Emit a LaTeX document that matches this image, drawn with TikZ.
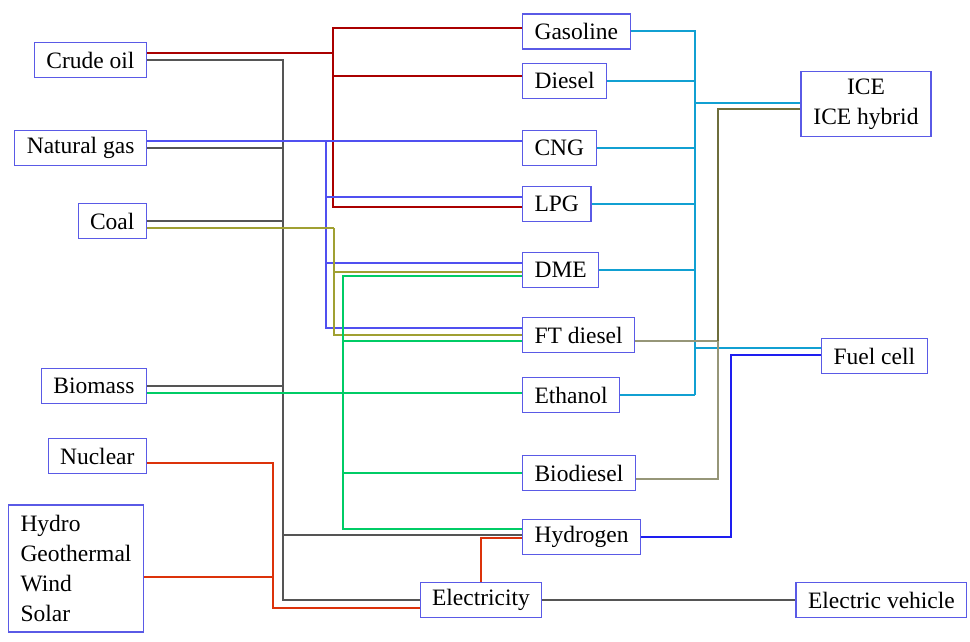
\documentclass[tikz,border=0pt]{standalone}
\usepackage{fontspec}
\setmainfont{Liberation Serif}
\usepackage{xcolor}
\usetikzlibrary{positioning,calc}
\definecolor{boxblue}{RGB}{90,90,230}
\definecolor{oilred}{RGB}{170,0,0}
\definecolor{gasblue}{RGB}{80,80,240}
\definecolor{coalolive}{RGB}{160,160,50}
\definecolor{biogreen}{RGB}{0,204,102}
\definecolor{trunkgrey}{RGB}{85,85,85}
\definecolor{elecred}{RGB}{220,50,10}
\definecolor{fuelcyan}{RGB}{17,160,210}
\definecolor{dieselolive}{RGB}{150,150,120}
\definecolor{iceolive}{RGB}{110,110,60}
\definecolor{htwoblue}{RGB}{30,30,240}

\begin{document}
\begin{tikzpicture}[x=1pt,y=-1pt,
  box/.style={draw=boxblue,line width=1.1pt,fill=white,minimum height=35pt,inner xsep=12pt,inner ysep=2pt,font=\fontsize{23.5}{30}\selectfont},
  oil/.style={draw=oilred,line width=1.8pt},
  gas/.style={draw=gasblue,line width=1.3pt},
  coalline/.style={draw=coalolive,line width=1.2pt},
  bio/.style={draw=biogreen,line width=2pt},
  grl/.style={draw=trunkgrey,line width=1.2pt},
  elecl/.style={draw=elecred,line width=1.8pt},
  fuel/.style={draw=fuelcyan,line width=2pt},
  dsl/.style={draw=dieselolive,line width=1.2pt},
  icel/.style={draw=iceolive,line width=1.3pt},
  htwo/.style={draw=htwoblue,line width=2pt}]
\useasboundingbox (0,0) rectangle (970,642);
% primary sources
\node[box,anchor=east] (crude) at (147,60) {Crude oil};
\node[box,anchor=east] (natgas) at (147,148) {Natural gas};
\node[box,anchor=east] (coal) at (147,221) {Coal};
\node[box,anchor=east] (biomass) at (147,386) {Biomass};
\node[box,anchor=east] (nuclear) at (147,456) {Nuclear};
\node[box,anchor=east,align=left,minimum height=127pt] (renew) at (144,568.5) {Hydro\\Geothermal\\Wind\\Solar};
% fuels
\node[box,anchor=west] (gasoline) at (522,31.5) {Gasoline};
\node[box,below=13pt of gasoline.south west,anchor=north west] (diesel) {Diesel};
\node[box,anchor=west] (cng) at (522,148) {CNG};
\node[box,anchor=west] (lpg) at (522,204) {LPG};
\node[box,anchor=west] (dme) at (522,270) {DME};
\node[box,anchor=west] (ftd) at (522,335) {FT diesel};
\node[box,anchor=west] (ethanol) at (522,395) {Ethanol};
\node[box,anchor=west] (biodiesel) at (522,473) {Biodiesel};
\node[box,anchor=west] (hydrogen) at (522,537) {Hydrogen};
\node[box] (elec) at (481,600) {Electricity};
% vehicles
\node[box,align=center,minimum width=130pt,minimum height=65pt] (ice) at (866,104) {ICE\\ICE hybrid};
\node[box,anchor=west] (fuelcell) at (821,356) {Fuel cell};
\node[box,right=253pt of elec] (ev) {Electric vehicle};
% bus points
\coordinate (kbus) at (283,60);
\coordinate (rbus) at (333,53);
\coordinate (bbus) at (326,141);
\coordinate (obus) at (334,228);
\coordinate (gbus) at (343,393);
\coordinate (nbus) at (273,608);
\coordinate (cbus) at (695,395);
\coordinate (ojoin) at (718,341);
\coordinate (fcbus) at (731,537);
% grey trunk
\draw[grl] (crude.east) -| (kbus |- elec.west) -- (elec.west);
\draw[grl] (natgas.east) -| (kbus);
\draw[grl] (coal.east) -| (kbus);
\draw[grl] (biomass.east) -| (kbus);
\draw[grl] ([yshift=2pt]hydrogen.west) -| (kbus);
\draw[grl] (elec.east) -- (ev.west);
% crude oil
\draw[oil] ([yshift=7pt]crude.east) -- (rbus);
\draw[oil] ([yshift=3.5pt]gasoline.west) -| (rbus) |- ([yshift=-3pt]lpg.west);
\draw[oil] ([yshift=4.5pt]diesel.west) -| (rbus);
% natural gas
\draw[gas] ([yshift=7pt]natgas.east) -- ([yshift=7pt]cng.west);
\draw[gas] ([yshift=7pt]lpg.west) -| (bbus);
\draw[gas] ([yshift=7pt]dme.west) -| (bbus);
\draw[gas] ([yshift=7pt]ftd.west) -| (bbus);
% coal
\draw[coalline] ([yshift=-7pt]coal.east) -- (obus);
\draw[coalline] ([yshift=-2pt]dme.west) -| (obus);
\draw[coalline] (ftd.west) -| (obus);
% biomass
\draw[bio] ([yshift=-7pt]biomass.east) -- ([yshift=2pt]ethanol.west);
\draw[bio] ([yshift=-6pt]dme.west) -| (gbus);
\draw[bio] ([yshift=-6pt]ftd.west) -| (gbus);
\draw[bio] (biodiesel.west) -| (gbus);
\draw[bio] ([yshift=8pt]hydrogen.west) -| (gbus);
% electricity
\draw[elecl] ([yshift=-7pt]nuclear.east) -| (nbus) -- ([yshift=-8pt]elec.west);
\draw[elecl] ([yshift=-8.5pt]renew.east) -| (nbus);
\draw[elecl] (elec.north) |- ([yshift=-1pt]hydrogen.west);
% to ICE
\draw[fuel] (gasoline.east) -| (cbus);
\draw[fuel] (diesel.east) -| (cbus);
\draw[fuel] (cng.east) -| (cbus);
\draw[fuel] (lpg.east) -| (cbus);
\draw[fuel] (dme.east) -| (cbus);
\draw[fuel] (ethanol.east) -| (cbus);
\draw[fuel] ([yshift=1pt]ice.west) -| (cbus);
\draw[fuel] ([yshift=8pt]fuelcell.west) -| (cbus);
\draw[dsl] ([yshift=-6pt]ftd.east) -- (ojoin);
\draw[dsl] ([yshift=-6pt]biodiesel.east) -| (ojoin);
\draw[icel] ([yshift=-5pt]ice.west) -| (ojoin);
% to fuel cell
\draw[htwo] (hydrogen.east) -- (fcbus) |- ([yshift=1pt]fuelcell.west);
\end{tikzpicture}
\end{document}
